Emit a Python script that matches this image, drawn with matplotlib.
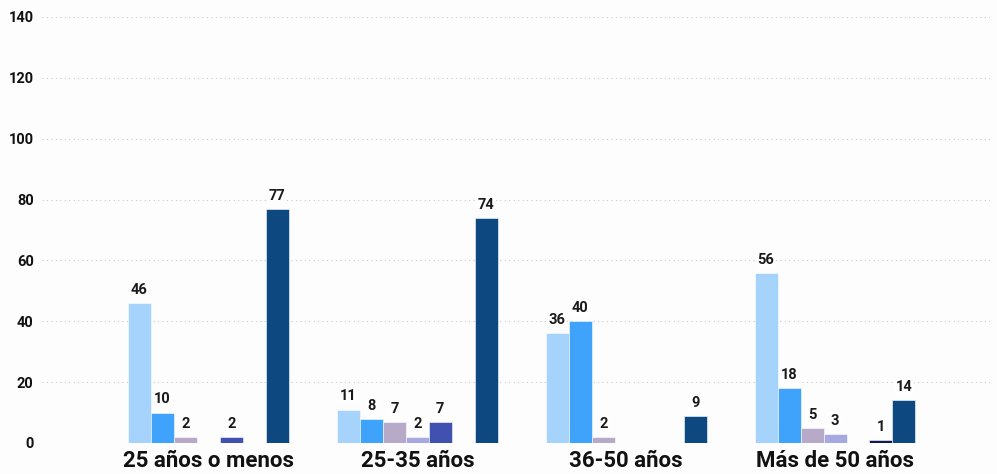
import numpy as np
import matplotlib.pyplot as plt

# Grupos de edad y valores de cada serie (None = sin dato)
categorias = ["25 años o menos", "25-35 años", "36-50 años", "Más de 50 años"]
serie_1 = [46, 11, 36, 56]
serie_2 = [10, 8, 40, 18]
serie_3 = [2, 7, 2, 5]
serie_4 = [None, 2, None, 3]
serie_5 = [2, 7, None, None]
serie_6 = [None, None, None, 1]
serie_7 = [77, 74, 9, 14]

series = [serie_1, serie_2, serie_3, serie_4, serie_5, serie_6, serie_7]
colores = ["#a6d3fc", "#3fa2fb", "#b7aac8", "#a6a9df", "#4151b0", "#121a54", "#0d4880"]

plt.rcParams["font.family"] = ["Roboto", "DejaVu Sans"]

fig = plt.figure(figsize=(9.97, 4.74), dpi=100)
fig.patch.set_facecolor("#fdfdfd")
ax = fig.add_axes([42 / 997, 31 / 474, 948 / 997, 426 / 474])
ax.set_facecolor("#fdfdfd")

x = np.arange(len(categorias))
ancho = 0.11
n = len(series)

for i, (valores, color) in enumerate(zip(series, colores)):
    offset = (i - (n - 1) / 2) * ancho
    for j, v in enumerate(valores):
        if v is None:
            continue
        ax.bar(x[j] + offset, v, width=ancho, color=color,
               edgecolor="#fdfdfd", linewidth=0.4, zorder=3)
        ax.text(x[j] + offset, v + 2.0, str(v), ha="center", va="bottom",
                fontsize=10.5, fontweight="bold", color="#1a1a1a", zorder=4,
                bbox=dict(boxstyle="square,pad=0.1", facecolor="white",
                          edgecolor="none", alpha=0.9))

ax.set_ylim(0, 140)
ax.set_xlim(-0.797, 3.742)
ax.set_yticks(np.arange(0, 141, 20))
ax.set_xticks(x)
ax.set_xticklabels(categorias, fontsize=16, fontweight="bold", color="#111111")
ax.tick_params(axis="x", length=0, pad=5)
ax.tick_params(axis="y", length=0, pad=6, labelsize=10.5, labelcolor="#111111")
for lbl in ax.get_yticklabels():
    lbl.set_fontweight("bold")

ax.grid(axis="y", linestyle=(0, (1, 3)), color="#c8c8c8", linewidth=0.8, zorder=0)
for s in ax.spines.values():
    s.set_visible(False)

fig.savefig("out.png", dpi=100, facecolor=fig.get_facecolor())
